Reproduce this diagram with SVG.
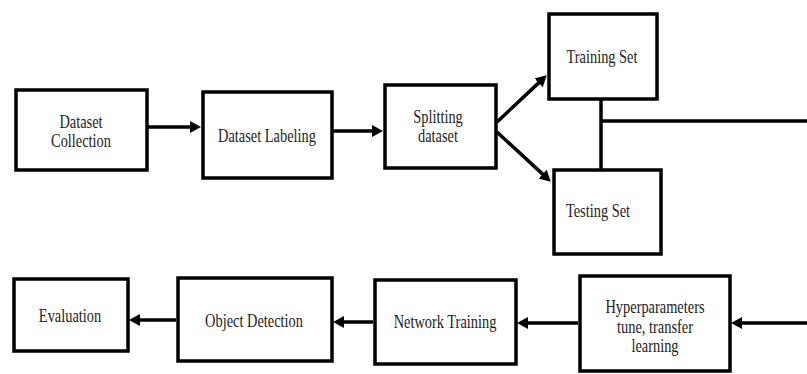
<svg xmlns="http://www.w3.org/2000/svg" width="807" height="374" viewBox="0 0 807 374">
<defs>
<style>
.box{fill:#fff;stroke:#000;stroke-width:3.5}
.ln{fill:none;stroke:#000;stroke-width:3.5;stroke-linecap:butt}
.ar{marker-end:url(#ah)}
text{font-family:"Liberation Serif","Times New Roman",serif;font-size:18px;fill:#222;text-anchor:middle}
</style>
<marker id="ah" markerUnits="userSpaceOnUse" markerWidth="12" markerHeight="12" refX="4" refY="6" orient="auto">
<path d="M0,0 L11,6 L0,12 z" fill="#000"/>
</marker>
</defs>
<rect width="807" height="374" fill="#fff"/>
<g id="connectors">
<line class="ln ar" x1="148" y1="127" x2="194" y2="127"/>
<line class="ln ar" x1="333" y1="131" x2="376" y2="131"/>
<line class="ln ar" x1="497" y1="122" x2="541.6" y2="80.1"/>
<line class="ln ar" x1="497" y1="132" x2="545.6" y2="176.9"/>
<line class="ln" x1="601" y1="99" x2="601" y2="169"/>
<line class="ln" x1="601" y1="121" x2="807" y2="121"/>
<line class="ln ar" x1="807" y1="323" x2="738" y2="323"/>
<line class="ln ar" x1="578" y1="323" x2="524" y2="323"/>
<line class="ln ar" x1="373" y1="322" x2="340" y2="322"/>
<line class="ln ar" x1="176" y1="320" x2="136" y2="320"/>
</g>
<g id="n1"><rect class="box" x="16" y="90" width="131" height="80"/>
<text transform="translate(81,128) scale(0.8,1)">Dataset</text>
<text transform="translate(81,147) scale(0.8,1)">Collection</text></g>
<g id="n2"><rect class="box" x="203" y="92" width="129" height="86"/>
<text transform="translate(267,142) scale(0.8,1)">Dataset Labeling</text></g>
<g id="n3"><rect class="box" x="385" y="85" width="111" height="83"/>
<text transform="translate(438,123) scale(0.8,1)">Splitting</text>
<text transform="translate(438,142) scale(0.8,1)">dataset</text></g>
<g id="n4"><rect class="box" x="549" y="14" width="108" height="85"/>
<text transform="translate(602,63) scale(0.8,1)">Training Set</text></g>
<g id="n5"><rect class="box" x="554" y="170" width="107" height="84"/>
<text transform="translate(598,217) scale(0.8,1)">Testing Set</text></g>
<g id="n6"><rect class="box" x="580" y="276" width="150" height="95"/>
<text transform="translate(655,313) scale(0.8,1)">Hyperparameters</text>
<text transform="translate(655,333) scale(0.8,1)">tune, transfer</text>
<text transform="translate(655,352) scale(0.8,1)">learning</text></g>
<g id="n7"><rect class="box" x="375" y="280" width="141" height="84"/>
<text transform="translate(445,328) scale(0.8,1)">Network Training</text></g>
<g id="n8"><rect class="box" x="178" y="278" width="154" height="83"/>
<text transform="translate(254,327) scale(0.8,1)">Object Detection</text></g>
<g id="n9"><rect class="box" x="14" y="279" width="114" height="72"/>
<text transform="translate(70,322) scale(0.8,1)">Evaluation</text></g>
</svg>
